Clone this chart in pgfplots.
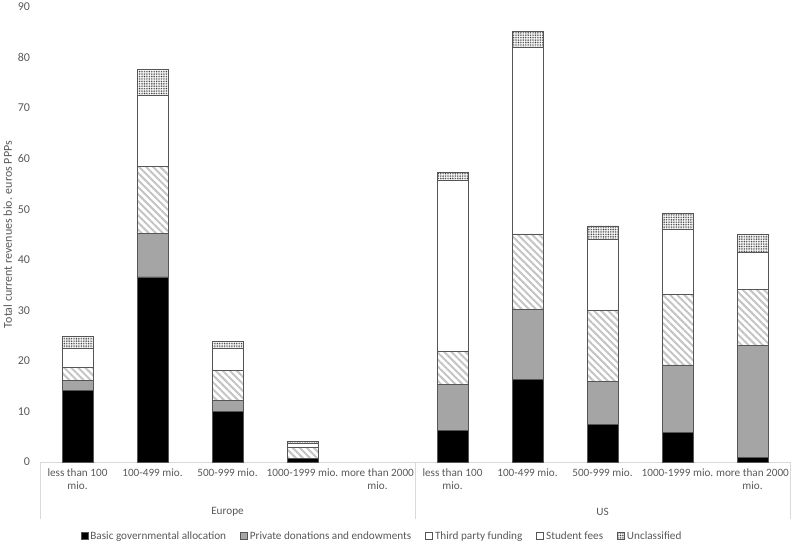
\documentclass[border=0pt]{standalone}
\usepackage{pgfplots}
\pgfplotsset{compat=1.18}
\usepackage{pgfplotstable}
\usetikzlibrary{patterns.meta}
\usepackage{fontspec}
\setmainfont{Carlito}
\definecolor{txt}{HTML}{595959}
\definecolor{edge}{HTML}{555555}
\definecolor{midgray}{HTML}{A5A5A5}
\definecolor{hatchgray}{HTML}{C4C4C4}
\definecolor{axisgray}{HTML}{D9D9D9}

\pgfplotstableread{
x  Basic Private Third Student Uncl
0  14.1  2.0   2.6   3.7   2.4
1  36.6  8.6   13.3  14.1  5.1
2  9.95  2.25  5.9   4.4   1.4
3  0.7   0.0   2.25  0.8   0.3
5  6.2   9.2   6.55  33.75 1.6
6  16.4  13.7  15.0  36.9  3.2
7  7.45  8.55  13.9  14.1  2.7
8  5.8   13.4  14.0  12.9  3.0
9  0.9   22.2  11.1  7.3   3.5
}\datatable

\begin{document}
\fontsize{11.2bp}{13.2bp}\selectfont
\begin{tikzpicture}
\path[use as bounding box] (0,0) rectangle (800bp,544bp);
\begin{axis}[
  at={(40bp,82bp)}, anchor=south west,
  scale only axis, width=750bp, height=455bp,
  xmin=-0.5, xmax=9.5, ymin=0, ymax=90,
  ybar stacked, bar width=31bp,
  ytick={0,10,...,90},
  xtick={0,...,9},
  xticklabels={{less than 100\\mio.},{100-499 mio.},{500-999 mio.},{1000-1999 mio.},{more than 2000\\mio.},{less than 100\\mio.},{100-499 mio.},{500-999 mio.},{1000-1999 mio.},{more than 2000\\mio.}},
  xticklabel style={align=center, text=txt, yshift=-3bp},
  yticklabel style={text=txt, xshift=-6bp, font=\fontsize{12bp}{14bp}\selectfont},
  /pgf/number format/assume math mode=true,
  axis x line*=bottom, axis y line*=left,
  x axis line style={draw=axisgray, -}, y axis line style={draw=none},
  tick style={draw=none},
  ylabel={Total current revenues bio. euros PPPs},
  ylabel style={text=txt, at={(axis description cs:-0.043,0.5)}, anchor=center, font=\fontsize{12bp}{14bp}\selectfont},
  legend style={at={(0.456,-0.1626)}, anchor=center, legend columns=5, draw=none,
    font=\fontsize{11.2bp}{13.2bp}\selectfont, text=txt,
    /tikz/every even column/.append style={column sep=12bp}},
  legend cell align=left,
  legend image code/.code={\draw[#1] (0bp,-3.5bp) rectangle (7bp,3.5bp);},
  every axis plot/.append style={draw=edge, line width=0.8bp},
  clip=false,
]
\addplot[fill=black] table[x=x,y=Basic]{\datatable};
\addplot[fill=midgray] table[x=x,y=Private]{\datatable};
\addplot[pattern={Lines[angle=-45,distance=5bp,line width=2bp]}, pattern color=hatchgray,
  legend image code/.code={\draw[draw=edge, line width=0.8bp, fill=white] (0bp,-3.5bp) rectangle (7bp,3.5bp);}] table[x=x,y=Third]{\datatable};
\addplot[fill=white] table[x=x,y=Student]{\datatable};
\addplot[pattern={Dots[radius=0.55bp,distance=1.7bp]}, pattern color=black!80] table[x=x,y=Uncl]{\datatable};
\legend{Basic governmental allocation, Private donations and endowments, Third party funding, Student fees, Unclassified}
\draw[axisgray] (axis description cs:0,0) -- (axis description cs:0,-0.125);
\draw[axisgray] (axis description cs:0.5,0) -- (axis description cs:0.5,-0.125);
\draw[axisgray] (axis description cs:1,0) -- (axis description cs:1,-0.125);
\node[text=txt] at (axis description cs:0.25,-0.11) {Europe};
\node[text=txt] at (axis description cs:0.75,-0.11) {US};
\end{axis}
\end{tikzpicture}
\end{document}
